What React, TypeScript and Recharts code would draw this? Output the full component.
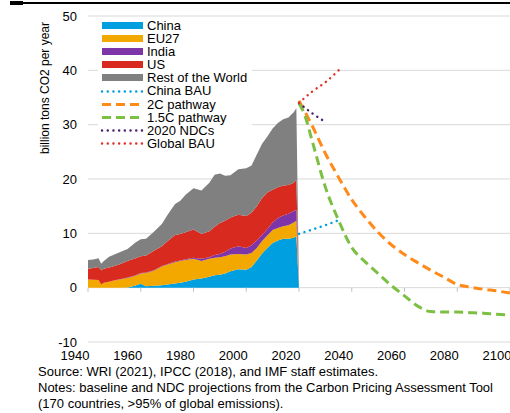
import { ComposedChart, Area, Line, XAxis, YAxis, CartesianGrid, ReferenceLine } from 'recharts'

// historical emissions by region, billion tons CO2
const YEARS = [1940, 1942, 1944, 1945, 1946, 1948, 1950, 1952, 1955, 1958, 1960, 1962, 1965, 1968, 1970, 1973, 1975, 1977, 1980, 1983, 1986, 1988, 1990, 1992, 1994, 1997, 2000, 2002, 2004, 2006, 2008, 2010, 2012, 2014, 2016, 2018, 2019, 2020]
const CHINA = [0, 0, 0, 0, 0, 0, 0, 0, 0.05, 0.4, 0.7, 0.25, 0.35, 0.45, 0.6, 0.75, 0.9, 1.1, 1.5, 1.7, 2.0, 2.3, 2.4, 2.6, 3.0, 3.4, 3.3, 3.8, 5.0, 6.3, 7.3, 8.2, 8.7, 9.0, 9.0, 9.2, 9.5, 0]
const EU27 = [1.5, 1.45, 1.4, 0.6, 0.9, 1.1, 1.3, 1.5, 1.75, 1.8, 1.9, 2.45, 2.75, 3.45, 3.6, 3.95, 4.0, 4.0, 3.8, 3.2, 3.3, 3.2, 3.2, 3.2, 3.1, 2.8, 2.8, 2.6, 2.3, 2.3, 2.3, 2.4, 2.3, 2.3, 2.5, 2.8, 2.8, 0]
const INDIA = [0, 0, 0, 0, 0, 0, 0.05, 0.05, 0.05, 0.1, 0.1, 0.1, 0.1, 0.1, 0.1, 0.1, 0.1, 0.15, 0.2, 0.4, 0.3, 0.5, 0.6, 0.8, 1.1, 1.4, 1.2, 1.4, 1.4, 1.1, 1.2, 1.4, 1.8, 2.0, 2.1, 2.1, 2.0, 0]
const US = [2.0, 2.15, 2.4, 2.6, 2.6, 2.6, 2.65, 2.75, 3.05, 3.1, 3.1, 3.1, 3.6, 3.6, 4.2, 4.9, 4.9, 4.95, 5.2, 4.6, 4.8, 5.2, 5.7, 5.7, 5.7, 5.8, 5.9, 6.0, 6.3, 6.8, 6.7, 6.0, 5.7, 5.5, 5.3, 5.2, 5.5, 0]
const ROW = [1.6, 1.6, 1.6, 1.2, 1.4, 2.0, 2.1, 2.2, 2.2, 2.9, 3.1, 3.1, 3.5, 4.1, 4.8, 5.7, 6.1, 6.9, 7.6, 8.0, 8.9, 9.6, 9.1, 8.3, 7.8, 8.4, 8.8, 8.7, 9.5, 10.0, 10.3, 11.3, 11.8, 12.2, 12.4, 13.0, 13.2, 0]

// projections
const CHINA_BAU_YEARS = [2020, 2025, 2030, 2035]
const CHINA_BAU = [9.9, 10.7, 11.5, 12.4]
const PATH_YEARS = [2020, 2022, 2025, 2030, 2035, 2040, 2045, 2050, 2055, 2060, 2065, 2070, 2075, 2080, 2085, 2090, 2095, 2100]
const PATH_2C = [34.4, 32.6, 29.8, 24.7, 20.3, 16.2, 13.0, 10.2, 7.9, 6.1, 4.6, 3.2, 1.9, 0.6, 0.1, -0.3, -0.6, -1.0]
const PATH_15C = [33.9, 32.0, 27.0, 18.5, 12.4, 7.4, 4.8, 2.6, 0.4, -1.5, -3.4, -4.4, -4.5, -4.5, -4.6, -4.7, -4.9, -5.0]
const NDC_YEARS = [2020, 2025, 2030]
const NDC_2020 = [34.0, 32.1, 30.5]
const GLOBAL_BAU_YEARS = [2020, 2025, 2030, 2035]
const GLOBAL_BAU = [34.0, 36.1, 37.8, 40.0]

const X_TICKS = [1940, 1960, 1980, 2000, 2020, 2040, 2060, 2080, 2100]
const Y_TICKS = [-10, 0, 10, 20, 30, 40, 50]

const FONT = '"Liberation Sans", Arial, sans-serif'

const historical = YEARS.map((year, i) => ({
  year,
  china: CHINA[i],
  eu27: EU27[i],
  india: INDIA[i],
  us: US[i],
  row: ROW[i],
}))

const toSeries = (years: number[], values: number[]) => years.map((year, i) => ({ year, value: values[i] }))

const chinaBau = toSeries(CHINA_BAU_YEARS, CHINA_BAU)
const path2c = toSeries(PATH_YEARS, PATH_2C)
const path15c = toSeries(PATH_YEARS, PATH_15C)
const ndc = toSeries(NDC_YEARS, NDC_2020)
const globalBau = toSeries(GLOBAL_BAU_YEARS, GLOBAL_BAU)

const DOT = { width: 2.4, dash: '0.1 5.6', cap: 'round' as const }
const DASH = { width: 3, dash: '9 5', cap: 'butt' as const }

const LEGEND = [
  { name: 'China', color: '#009fe0', kind: 'area' },
  { name: 'EU27', color: '#f3a800', kind: 'area' },
  { name: 'India', color: '#7e35a8', kind: 'area' },
  { name: 'US', color: '#d92a1f', kind: 'area' },
  { name: 'Rest of the World', color: '#808080', kind: 'area' },
  { name: 'China BAU', color: '#009fe0', kind: 'dot' },
  { name: '2C pathway', color: '#ff8a1a', kind: 'dash' },
  { name: '1.5C pathway', color: '#7cc043', kind: 'dash' },
  { name: '2020 NDCs', color: '#4b2170', kind: 'dot' },
  { name: 'Global BAU', color: '#e0302a', kind: 'dot' },
]

function XTick({ x, y, payload }: any) {
  return (
    <text x={x - 13} y={y} dy="0.71em" textAnchor="middle" fontSize={13} fill="#000" fontFamily={FONT}>
      {payload.value}
    </text>
  )
}

function ChartLegend() {
  return (
    <div style={{ position: 'absolute', left: 98, top: 19, width: 154, background: '#fff', fontSize: 13, lineHeight: '13.1px', color: '#000' }}>
      {LEGEND.map((item) => {
        const style = item.kind === 'dot' ? DOT : DASH
        return (
          <div key={item.name} style={{ display: 'flex', alignItems: 'center', height: 13.1 }}>
            <svg width={49} height={13} style={{ flex: 'none' }}>
              {item.kind === 'area' ? (
                <rect x={4} y={3} width={41} height={7} fill={item.color} />
              ) : (
                <line x1={4} x2={45} y1={6.5} y2={6.5} stroke={item.color} strokeWidth={style.width} strokeDasharray={style.dash} strokeLinecap={style.cap} />
              )}
            </svg>
            <span style={{ whiteSpace: 'nowrap' }}>{item.name}</span>
          </div>
        )
      })}
    </div>
  )
}

export default function App() {
  return (
    <div style={{ position: 'absolute', left: 0, top: 0, width: 510, height: 413, background: '#fff', fontFamily: FONT, overflow: 'hidden' }}>
      <div style={{ position: 'absolute', left: 10, top: 2, width: 500, height: 2, background: '#000' }} />
      <div style={{ position: 'absolute', left: 10, top: 1, width: 13, height: 4, background: '#000' }} />

      <ComposedChart width={510} height={364} data={historical} margin={{ top: 16, right: 0, bottom: 0, left: 0 }}>
        <CartesianGrid vertical={false} stroke="#d9d9d9" />
        <XAxis
          dataKey="year"
          type="number"
          domain={[1940, 2100]}
          ticks={X_TICKS}
          interval={0}
          axisLine={false}
          tickLine={false}
          tickSize={0}
          tickMargin={9}
          height={22}
          tick={<XTick />}
          allowDataOverflow
        />
        <YAxis
          type="number"
          domain={[-10, 50]}
          ticks={Y_TICKS}
          interval={0}
          width={88}
          axisLine={false}
          tickLine={false}
          tickMargin={5}
          tick={{ fontSize: 13, fill: '#000', fontFamily: FONT }}
        />
        <Area dataKey="china" stackId="1" type="linear" fill="#009fe0" fillOpacity={1} stroke="none" isAnimationActive={false} />
        <Area dataKey="eu27" stackId="1" type="linear" fill="#f3a800" fillOpacity={1} stroke="none" isAnimationActive={false} />
        <Area dataKey="india" stackId="1" type="linear" fill="#7e35a8" fillOpacity={1} stroke="none" isAnimationActive={false} />
        <Area dataKey="us" stackId="1" type="linear" fill="#d92a1f" fillOpacity={1} stroke="none" isAnimationActive={false} />
        <Area dataKey="row" stackId="1" type="linear" fill="#808080" fillOpacity={1} stroke="none" isAnimationActive={false} />
        {X_TICKS.map((t) => (
          <ReferenceLine key={t} segment={[{ x: t, y: 0 }, { x: t, y: -0.75 }]} stroke="#bfbfbf" />
        ))}
        <Line data={chinaBau} dataKey="value" type="monotone" stroke="#009fe0" strokeWidth={DOT.width} strokeDasharray={DOT.dash} strokeLinecap="round" dot={false} isAnimationActive={false} />
        <Line data={path2c} dataKey="value" type="monotone" stroke="#ff8a1a" strokeWidth={DASH.width} strokeDasharray={DASH.dash} dot={false} isAnimationActive={false} />
        <Line data={path15c} dataKey="value" type="monotone" stroke="#7cc043" strokeWidth={DASH.width} strokeDasharray={DASH.dash} dot={false} isAnimationActive={false} />
        <Line data={ndc} dataKey="value" type="monotone" stroke="#4b2170" strokeWidth={DOT.width} strokeDasharray={DOT.dash} strokeLinecap="round" dot={false} isAnimationActive={false} />
        <Line data={globalBau} dataKey="value" type="monotone" stroke="#e0302a" strokeWidth={DOT.width} strokeDasharray={DOT.dash} strokeLinecap="round" dot={false} isAnimationActive={false} />
      </ComposedChart>

      <ChartLegend />

      <div style={{ position: 'absolute', left: 45, top: 88, transform: 'translate(-50%, -50%) rotate(-90deg)', fontSize: 12, whiteSpace: 'nowrap', color: '#000' }}>
        billion tons CO2 per year
      </div>

      <div style={{ position: 'absolute', left: 38, top: 364, fontSize: 13, lineHeight: '16px', color: '#000' }}>
        <div>Source: WRI (2021), IPCC (2018), and IMF staff estimates.</div>
        <div>Notes: baseline and NDC projections from the Carbon Pricing Assessment Tool</div>
        <div>(170 countries, &gt;95% of global emissions).</div>
      </div>
    </div>
  )
}
